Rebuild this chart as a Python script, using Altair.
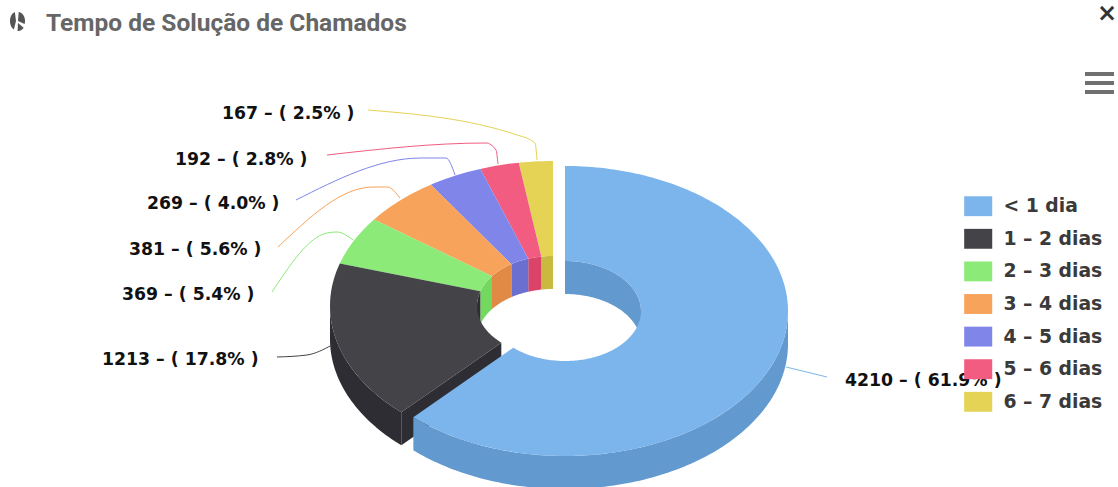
import math
import altair as alt

# Chamados por faixa de tempo de solução
categories = ["< 1 dia", "1 – 2 dias", "2 – 3 dias", "3 – 4 dias", "4 – 5 dias", "5 – 6 dias", "6 – 7 dias"]
counts = [4210, 1213, 369, 381, 269, 192, 167]
top_colors = ["#7cb5ec", "#434348", "#8cea78", "#f7a35c", "#8085e9", "#f15c80", "#e4d354"]
side_colors = ["#6299cf", "#2e2d33", "#72d85e", "#e08a45", "#6a6fd0", "#d94468", "#c9b93f"]

# Ellipse geometry of the tilted donut
RX, RY = 223, 145
IRX, IRY = 76, 50
DEPTH = 33
BLUE_CENTER = (565, 311)
REST_CENTER = (553, 306)

# Label anchors and leader lines per category
label_x = [845, 102, 122, 129, 147, 175, 222]
label_y = [381, 360, 295, 250, 204, 160, 114]
label_text = ["4210 – ( 61.9% )", "1213 – ( 17.8% )", "369 – ( 5.4% )", "381 – ( 5.6% )",
              "269 – ( 4.0% )", "192 – ( 2.8% )", "167 – ( 2.5% )"]
leaders = [
    [(786, 367), (827, 377)],
    [(277, 357), (307, 355), (332, 345)],
    [(272, 292), (327, 233), (337, 232), (353, 240)],
    [(278, 247), (373, 187), (387, 187), (400, 198)],
    [(296, 200), (421, 158), (446, 158), (455, 175)],
    [(327, 155), (486, 143), (496, 150), (498, 164)],
    [(368, 110), (517, 135), (535, 143), (537, 160)],
]


def pt(center, rx, ry, a, dy=0):
    return [center[0] + rx * math.sin(a), center[1] - ry * math.cos(a) + dy]


def arc(center, rx, ry, a0, a1, dy=0):
    n = max(2, int(abs(a1 - a0) / 0.02))
    return [pt(center, rx, ry, a0 + (a1 - a0) * i / n, dy) for i in range(n + 1)]


def polygon(series, ring):
    return {"type": "Feature", "properties": {"series": series},
            "geometry": {"type": "Polygon", "coordinates": [ring + [ring[0]]]}}


def wall(series, center, rx, ry, a0, a1):
    return polygon(series, arc(center, rx, ry, a0, a1) + arc(center, rx, ry, a1, a0, DEPTH))


total = sum(counts)
edges = [0.0]
for c in counts:
    edges.append(edges[-1] + c / total * 2 * math.pi)

wall_names = [c + " lado" for c in categories]
features = []
# Back slices first, the dark slice next, the blue slice on top of everything
for i in [6, 5, 4, 3, 2, 1]:
    a0, a1 = edges[i], edges[i + 1]
    c = REST_CENTER
    if i == 1:
        features.append(wall(wall_names[i], c, RX, RY, a0, math.radians(270)))
        features.append(polygon(wall_names[i], [pt(c, RX, RY, a0), pt(c, IRX, IRY, a0),
                                                pt(c, IRX, IRY, a0, DEPTH), pt(c, RX, RY, a0, DEPTH)]))
    low = max(a0, math.radians(270))
    if a1 > low:
        features.append(wall(wall_names[i], c, IRX, IRY, low, a1))
for i in [6, 5, 4, 3, 2, 1]:
    features.append(polygon(categories[i], arc(REST_CENTER, RX, RY, edges[i], edges[i + 1])
                            + arc(REST_CENTER, IRX, IRY, edges[i + 1], edges[i])))
features.append(wall(wall_names[0], BLUE_CENTER, IRX, IRY, 0, math.pi / 2))
features.append(wall(wall_names[0], BLUE_CENTER, RX, RY, math.pi / 2, edges[1]))
features.append(polygon(categories[0], arc(BLUE_CENTER, RX, RY, 0, edges[1])
                        + arc(BLUE_CENTER, IRX, IRY, edges[1], 0)))

# Small pie glyph beside the heading
features_icon = [
    polygon("i", arc((18, 21), 7, 9, 0.1, 1.9) + [[18, 21]]),
    polygon("i", arc((18, 23), 7, 8, 2.2, 3.2) + [[18, 23]]),
    polygon("i", arc((16, 21), 6, 9, 3.5, 6.1) + [[16, 21]]),
]

projection = dict(type="identity", scale=1, translate=[0, 0])
color_scale = alt.Scale(domain=categories + wall_names, range=top_colors + side_colors)

slices = alt.Chart(alt.Data(values=features)).mark_geoshape(strokeWidth=0).encode(
    color=alt.Color(
        "properties.series:N",
        scale=color_scale,
        legend=alt.Legend(
            values=categories, title=None, orient="none", legendX=961.7, legendY=189.7,
            symbolType="M-0.86,-0.61H0.86V0.61H-0.86Z", symbolSize=1063, symbolStrokeWidth=0,
            rowPadding=5.6, labelOffset=8.7, padding=0, zindex=1,
            labelFont="DejaVu Sans", labelFontWeight="bold", labelFontSize=18.8, labelColor="#3a3a3a",
        ),
    )
).project(**projection)

leader_rows = [
    {"series": categories[i], "lon": p[0], "lat": p[1], "step": j}
    for i, line in enumerate(leaders) for j, p in enumerate(line)
]
leader_layer = alt.Chart(alt.Data(values=leader_rows)).mark_line(
    strokeWidth=1, interpolate="monotone"
).encode(
    longitude="lon:Q", latitude="lat:Q", order="step:Q",
    color=alt.Color("series:N", scale=color_scale, legend=None),
).project(**projection)

label_rows = [{"t": t, "lon": x, "lat": y} for t, x, y in zip(label_text, label_x, label_y)]
label_layer = alt.Chart(alt.Data(values=label_rows)).mark_text(
    align="left", baseline="middle", font="DejaVu Sans", fontWeight="bold", fontSize=17.3, color="#111111"
).encode(longitude="lon:Q", latitude="lat:Q", text="t:N").project(**projection)

heading = alt.Chart(alt.Data(values=[{"t": "Tempo de Solução de Chamados", "lon": 46, "lat": 24}])).mark_text(
    align="left", baseline="middle", font="Roboto", fontWeight="bold", fontSize=24.5, color="#666666"
).encode(longitude="lon:Q", latitude="lat:Q", text="t:N").project(**projection)

close_mark = alt.Chart(alt.Data(values=[{"t": "×", "lon": 1107, "lat": 14}])).mark_text(
    align="center", baseline="middle", font="DejaVu Sans", fontWeight="bold", fontSize=24, color="#333333"
).encode(longitude="lon:Q", latitude="lat:Q", text="t:N").project(**projection)

icon = alt.Chart(alt.Data(values=features_icon)).mark_geoshape(
    fill="#555555", strokeWidth=0
).project(**projection)

menu_rows = [{"bar": k, "lon": x, "lat": y}
             for k, y in enumerate([74, 83, 92]) for x in (1085, 1114)]
menu = alt.Chart(alt.Data(values=menu_rows)).mark_line(strokeWidth=4, color="#707070").encode(
    longitude="lon:Q", latitude="lat:Q", detail="bar:N"
).project(**projection)

chart = alt.layer(slices, leader_layer, label_layer, heading, close_mark, icon, menu).properties(
    width=1118, height=487, padding=0, autosize=alt.AutoSizeParams(type="none"),
    background="#ffffff",
).configure_view(stroke=None)

chart.save("out.html", embed_options={"renderer": "svg", "actions": False})
